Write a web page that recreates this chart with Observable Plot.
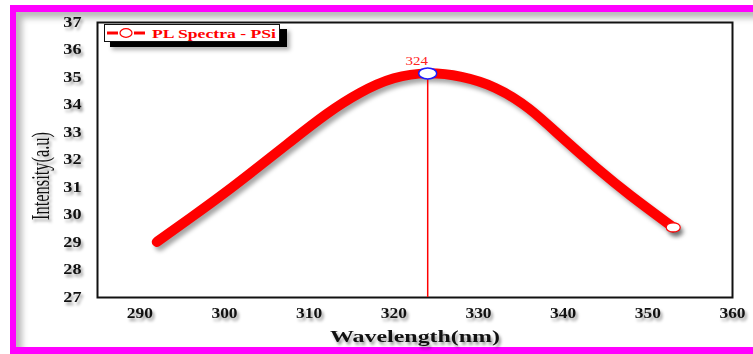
<!DOCTYPE html>
<html>
<head>
<meta charset="utf-8">
<script src="https://cdn.jsdelivr.net/npm/d3@7"></script>
<script src="https://cdn.jsdelivr.net/npm/@observablehq/plot@0.6"></script>
<style>
  html, body { margin: 0; padding: 0; background: #fff; }
  #page { position: relative; width: 753px; height: 354px; overflow: hidden; background: #fff; }
  #border {
    position: absolute; left: 10px; top: 5px; width: 800px; height: 335px;
    border-top: 7px solid #ff00ff; border-left: 6px solid #ff00ff; border-bottom: 7px solid #ff00ff;
    box-shadow: inset 6px 6px 6px rgba(0,0,0,0.28);
  }
  #chart { position: absolute; left: 0; top: 0; }
  #legend { position: absolute; left: 104px; top: 24px; }
</style>
</head>
<body>
<div id="page">
  <div id="border"></div>
  <div id="chart"></div>
  <svg id="legend" width="200" height="34"></svg>
</div>
<script>
// PL spectrum of porous silicon
const wavelength = [292, 296, 300, 304, 308, 312, 316, 320, 324, 328, 332, 336, 340, 344, 348, 353];
const intensity  = [29.02, 29.90, 30.80, 31.75, 32.72, 33.66, 34.44, 34.97, 35.15, 35.02, 34.62, 33.86, 32.78, 31.70, 30.70, 29.55];
const peakWavelength = 324;
const peakIntensity = 35.15;
const peakLabel = "324";
const xTicks = [290, 300, 310, 320, 330, 340, 350, 360];
const yTicks = [27, 28, 29, 30, 31, 32, 33, 34, 35, 36, 37];
const seriesName = "PL Spectra - PSi";
const xTitle = "Wavelength(nm)";
const yTitle = "Intensity(a.u)";

const data = wavelength.map((w, i) => ({w, v: intensity[i]}));
const last = [data[data.length - 1]];
const peak = [{w: peakWavelength, v: peakIntensity}];

const chart = Plot.plot({
  width: 753,
  height: 354,
  marginLeft: 97,
  marginRight: 21,
  marginTop: 22,
  marginBottom: 57,
  style: {background: "transparent", fontFamily: "'Liberation Serif', 'Times New Roman', serif", color: "#111"},
  x: {domain: [285, 360]},
  y: {domain: [27, 37]},
  marks: [
    Plot.frame({fill: "white", stroke: "#111", strokeWidth: 2, ariaDescription: "plot-frame"}),
    Plot.axisX(xTicks, {tickSize: 0, tickPadding: 10, fontSize: 14.5, fontWeight: "bold", label: null, ariaDescription: "xticks"}),
    Plot.axisY(yTicks, {tickSize: 0, tickPadding: 16, fontSize: 14, fontWeight: "bold", label: null, ariaDescription: "yticks"}),
    Plot.line(data, {x: "w", y: "v", stroke: "#ff0000", strokeWidth: 10, curve: "natural",
      strokeLinecap: "round", strokeLinejoin: "round", ariaDescription: "pl-line"}),
    Plot.ruleX(peak, {x: "w", y1: 27, y2: "v", stroke: "#ff0000", strokeWidth: 1.5, ariaDescription: "peak-rule"}),
    Plot.dot(last, {x: "w", y: "v", r: 5, fill: "white", stroke: "#ff0000", strokeWidth: 1.2, ariaDescription: "end-dot"}),
    Plot.dot(peak, {x: "w", y: "v", r: 6, fill: "white", stroke: "#1a1aff", strokeWidth: 1.5, ariaDescription: "peak-dot"}),
    Plot.text(peak, {x: "w", y: "v", text: () => peakLabel, dx: -11, dy: -13, fill: "#ff2020",
      fontSize: 13, ariaDescription: "peak-label"}),
    Plot.text([xTitle], {frameAnchor: "bottom", text: d => d, dy: 39, lineAnchor: "middle",
      fontSize: 16.5, fontWeight: "bold", fill: "#111", ariaDescription: "xtitle"}),
    Plot.text([yTitle], {frameAnchor: "left", text: d => d, dx: -57, dy: 16, rotate: -90,
      textAnchor: "middle", lineAnchor: "middle", fontSize: 26, fill: "#111", ariaDescription: "ytitle"})
  ]
});
document.getElementById("chart").appendChild(chart);

const svg = d3.select(chart);
const grp = name => svg.selectAll(`g[aria-description="${name}"]`);
const textShadow = "drop-shadow(2px 3px 1.5px rgba(0,0,0,0.4))";

// widen glyphs horizontally
function stretch(sel, k) {
  sel.each(function() {
    const len = this.getComputedTextLength();
    this.setAttribute("textLength", (len * k).toFixed(1));
    this.setAttribute("lengthAdjust", "spacingAndGlyphs");
  });
}
stretch(grp("xticks").selectAll("text"), 1.2);
stretch(grp("yticks").selectAll("text"), 1.3);
stretch(grp("peak-label").selectAll("text"), 1.15);
grp("xtitle").selectAll("text").attr("textLength", 170).attr("lengthAdjust", "spacingAndGlyphs");
grp("ytitle").selectAll("text").attr("textLength", 88).attr("lengthAdjust", "spacingAndGlyphs");

["xticks", "yticks", "xtitle", "ytitle"].forEach(n => grp(n).style("filter", textShadow));
grp("plot-frame").style("filter", "drop-shadow(4px 4px 4px rgba(0,0,0,0.3))");
grp("pl-line").style("filter", "drop-shadow(3px 4px 2px rgba(0,0,0,0.35))");
grp("end-dot").style("filter", "drop-shadow(3px 4px 2px rgba(0,0,0,0.35))");
grp("peak-rule").selectAll("line").attr("stroke", "#ff0000");

// turn round markers into flattened ellipses
function toEllipse(name, rx, ry) {
  grp(name).selectAll("circle").each(function() {
    let cx = +this.getAttribute("cx") || 0, cy = +this.getAttribute("cy") || 0;
    const t = this.getAttribute("transform");
    if (t) {
      const m = /translate\(\s*([-\d.]+)[ ,]+([-\d.]+)/.exec(t);
      if (m) { cx += +m[1]; cy += +m[2]; }
    }
    const e = document.createElementNS("http://www.w3.org/2000/svg", "ellipse");
    e.setAttribute("cx", cx); e.setAttribute("cy", cy);
    e.setAttribute("rx", rx); e.setAttribute("ry", ry);
    this.parentNode.replaceChild(e, this);
  });
}
toEllipse("end-dot", 7, 4.6);
toEllipse("peak-dot", 9, 5.5);

// legend
const lg = d3.select("#legend");
const defs = lg.append("defs");
defs.append("filter").attr("id", "lgblur").attr("x", "-20%").attr("y", "-50%").attr("width", "140%").attr("height", "200%")
  .append("feGaussianBlur").attr("stdDeviation", 2);
lg.append("rect").attr("x", 8).attr("y", 7).attr("width", 178).attr("height", 19).attr("fill", "rgba(0,0,0,0.3)").attr("filter", "url(#lgblur)");
lg.append("rect").attr("x", 6).attr("y", 5).attr("width", 177).attr("height", 18).attr("fill", "#000");
lg.append("rect").attr("x", 0.5).attr("y", 0.5).attr("width", 175).attr("height", 17).attr("fill", "#fff").attr("stroke", "#111").attr("stroke-width", 1);
lg.append("line").attr("x1", 3).attr("x2", 14).attr("y1", 9).attr("y2", 9).attr("stroke", "#ff0000").attr("stroke-width", 3);
lg.append("line").attr("x1", 30).attr("x2", 41).attr("y1", 9).attr("y2", 9).attr("stroke", "#ff0000").attr("stroke-width", 3);
lg.append("ellipse").attr("cx", 22).attr("cy", 9).attr("rx", 6).attr("ry", 4.3).attr("fill", "#fff").attr("stroke", "#ff0000").attr("stroke-width", 1.2);
lg.append("text").attr("x", 48).attr("y", 13.5).attr("fill", "#ff0000")
  .attr("font-family", "'Liberation Serif', 'Times New Roman', serif").attr("font-weight", "bold").attr("font-size", 13)
  .attr("textLength", 124).attr("lengthAdjust", "spacingAndGlyphs").text(seriesName);
</script>
</body>
</html>
